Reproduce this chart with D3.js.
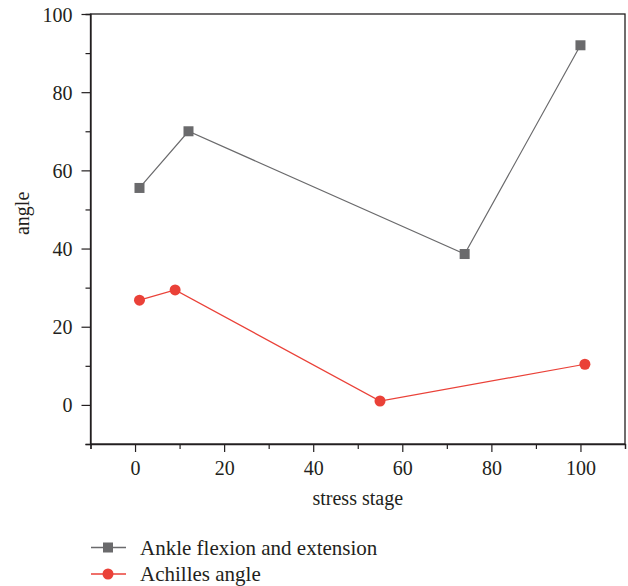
<!DOCTYPE html>
<html>
<head>
<meta charset="utf-8">
<script src="https://cdn.jsdelivr.net/npm/d3@7"></script>
<style>
  body { margin: 0; background: #fff; }
  text { font-family: "Liberation Serif", "DejaVu Serif", serif; fill: #231f20; }
</style>
</head>
<body>
<script>
var width = 628, height = 586;

// data
var ankleX = [1, 12, 74, 100];
var ankleY = [55.5, 70, 38.6, 92];
var achX = [1, 9, 55, 101];
var achY = [26.8, 29.4, 1, 10.4];
var seriesNames = ["Ankle flexion and extension", "Achilles angle"];
var xTicks = [0, 20, 40, 60, 80, 100];
var yTicks = [0, 20, 40, 60, 80, 100];

var grey = "#6a6a6c", red = "#ea4138";

var x = d3.scaleLinear().domain([-10, 110]).range([90.5, 625]);
var y = d3.scaleLinear().domain([-10, 100]).range([444, 14]);

var svg = d3.select("body").append("svg")
  .attr("width", width)
  .attr("height", height);

// frame
svg.append("rect")
  .attr("x", x(-10)).attr("y", y(100))
  .attr("width", x(110) - x(-10)).attr("height", y(-10) - y(100))
  .attr("fill", "none").attr("stroke", "#231f20").attr("stroke-width", 1.3);

// axes
var xAxis = svg.append("g").attr("transform", "translate(0," + y(-10) + ")");
xAxis.call(d3.axisBottom(x).tickValues(d3.range(-10, 111, 10)).tickSize(5).tickFormat(""));
xAxis.call(g => g.selectAll(".tick").filter(d => xTicks.indexOf(d) >= 0).select("line").attr("y2", 8));
xAxis.selectAll(".tick").filter(d => xTicks.indexOf(d) >= 0).append("text")
  .attr("y", 31).attr("font-size", 20).attr("text-anchor", "middle").text(d => d);

var yAxis = svg.append("g").attr("transform", "translate(" + x(-10) + ",0)");
yAxis.call(d3.axisLeft(y).tickValues(d3.range(-10, 101, 10)).tickSize(5).tickFormat(""));
yAxis.call(g => g.selectAll(".tick").filter(d => yTicks.indexOf(d) >= 0).select("line").attr("x2", -9));
yAxis.selectAll(".tick").filter(d => yTicks.indexOf(d) >= 0).append("text")
  .attr("x", -18).attr("dy", "0.35em").attr("font-size", 20).attr("text-anchor", "end").text(d => d);

svg.selectAll(".domain").attr("stroke", "#231f20").attr("stroke-width", 1.3);
svg.selectAll(".tick line").attr("stroke", "#231f20").attr("stroke-width", 1.2);

// labels
svg.append("text")
  .attr("x", x(50)).attr("y", 505)
  .attr("text-anchor", "middle").attr("font-size", 20)
  .text("stress stage");
svg.append("text")
  .attr("transform", "translate(29," + y(49) + ") rotate(-90)")
  .attr("text-anchor", "middle").attr("font-size", 20)
  .text("angle");

// series
var line = d3.line().x(d => x(d[0])).y(d => y(d[1]));
var ankle = ankleX.map((v, i) => [v, ankleY[i]]);
var ach = achX.map((v, i) => [v, achY[i]]);

svg.append("path").attr("d", line(ankle)).attr("fill", "none").attr("stroke", grey).attr("stroke-width", 1.2);
svg.append("path").attr("d", line(ach)).attr("fill", "none").attr("stroke", red).attr("stroke-width", 1.2);

svg.selectAll(".sq").data(ankle).join("rect")
  .attr("x", d => x(d[0]) - 5).attr("y", d => y(d[1]) - 5)
  .attr("width", 10).attr("height", 10).attr("fill", grey);
svg.selectAll(".ci").data(ach).join("circle")
  .attr("cx", d => x(d[0])).attr("cy", d => y(d[1])).attr("r", 5.5).attr("fill", red);

// legend
var leg = svg.append("g");
[grey, red].forEach(function (c, i) {
  var ly = 547.5 + i * 26.5;
  leg.append("line").attr("x1", 91).attr("x2", 126).attr("y1", ly).attr("y2", ly)
    .attr("stroke", c).attr("stroke-width", 1.5);
  if (i === 0) {
    leg.append("rect").attr("x", 103).attr("y", ly - 5).attr("width", 10).attr("height", 10).attr("fill", c);
  } else {
    leg.append("circle").attr("cx", 108).attr("cy", ly).attr("r", 5.5).attr("fill", c);
  }
  leg.append("text").attr("x", 140).attr("y", ly).attr("dy", "0.35em").attr("font-size", 21)
    .text(seriesNames[i]);
});
</script>
</body>
</html>
